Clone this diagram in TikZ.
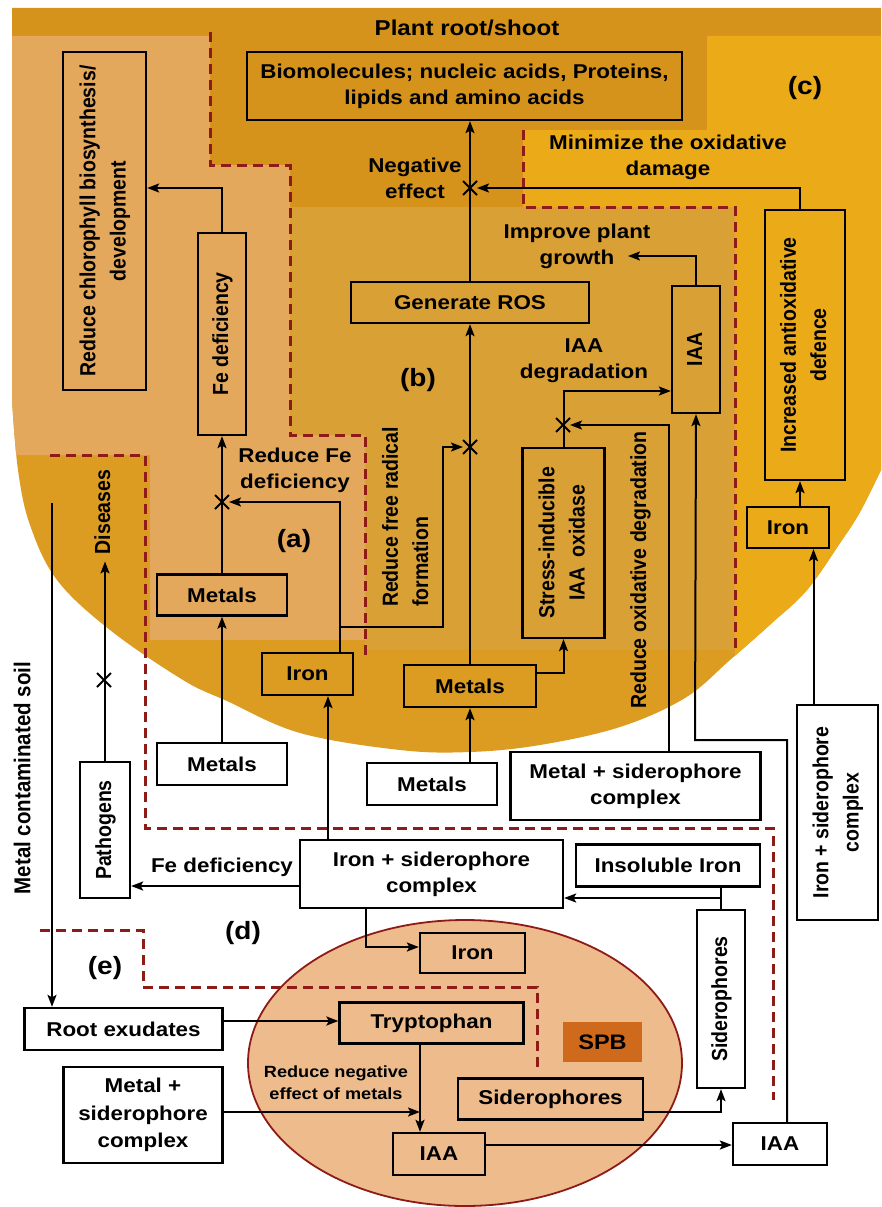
\documentclass[tikz,border=0pt]{standalone}
\usepackage{fontspec}
\setmainfont{Liberation Sans}[FakeStretch=1.12]
\newfontfamily\rotfont{Liberation Sans}
\usepackage{graphicx}
\usetikzlibrary{arrows.meta,shapes.misc}
\definecolor{cbase}{HTML}{DC9B21}
\definecolor{ctop}{HTML}{D5931B}
\definecolor{ca}{HTML}{E4A85D}
\definecolor{cb}{HTML}{D9A035}
\definecolor{cc}{HTML}{EBAA17}
\definecolor{cell}{HTML}{EEBB8D}
\definecolor{cspb}{HTML}{CF6A1C}
\definecolor{cdash}{HTML}{8E1B17}
\newcommand{\vtx}[3]{\rotatebox{90}{\scalebox{1}[1.12]{\rotfont\bfseries\fontsize{#1}{#2}\selectfont\begin{tabular}{@{}c@{}}#3\end{tabular}}}}
\newcommand{\vt}[1]{\vtx{19.5}{27}{#1}}
\newcommand{\vtl}[1]{\rotatebox{90}{\scalebox{1}[1.12]{\rotfont\bfseries\fontsize{19.5}{27}\selectfont\begin{tabular}{@{}l@{}}#1\end{tabular}}}}
\begin{document}
\begin{tikzpicture}[x=1pt,y=-1pt,
  txt/.style={font=\bfseries\fontsize{20}{26}\selectfont, align=center, inner sep=0pt, text=black},
  lbl/.style={font=\bfseries\fontsize{25}{28}\selectfont, inner sep=0pt},
  box/.style={txt, draw=black, line width=2.3pt},
  wbox/.style={box, fill=white},
  ln/.style={line width=2pt},
  arr/.style={line width=2pt, -{Stealth[length=12pt,width=9pt,inset=2.5pt]}},
  dsh/.style={draw=cdash, line width=3pt, dash pattern=on 10pt off 6pt},
  xm/.style={draw, cross out, line width=2pt, minimum size=12pt, inner sep=0pt}]
\useasboundingbox (0,0) rectangle (881,1207);
\fill[white] (0,0) rectangle (881,1207);
% plant region
\fill[cbase] (12,8) -- (881,8) -- (881,470) -- plot[smooth,tension=0.6] coordinates {(881,470) (860,512) (840,543) (807,590) (773,622) (730,660) (685,698) (620,727) (540,745) (470,752) (400,750) (300,733) (227,701) (183,680) (110,630) (57,580) (30,525) (18,470) (12,400)} -- cycle;
\begin{scope}
\clip (12,8) -- (881,8) -- (881,470) -- plot[smooth,tension=0.6] coordinates {(881,470) (860,512) (840,543) (807,590) (773,622) (730,660) (685,698) (620,727) (540,745) (470,752) (400,750) (300,733) (227,701) (183,680) (110,630) (57,580) (30,525) (18,470) (12,400)} -- cycle;
\fill[ctop] (12,8) rectangle (881,36);
\fill[ctop] (210,36) -- (707,36) -- (707,130) -- (523,130) -- (523,207) -- (290,207) -- (290,165) -- (210,165) -- cycle;
\fill[ca] (12,36) -- (210,36) -- (210,165) -- (290,165) -- (290,435) -- (365,435) -- (365,640) -- (150,640) -- (150,455) -- (12,455) -- cycle;
\fill[cb] (290,207) -- (735,207) -- (735,650) -- (365,650) -- (365,435) -- (290,435) -- cycle;
\fill[cc] (523,130) -- (707,130) -- (707,36) -- (881,36) -- (881,900) -- (735,900) -- (735,207) -- (523,207) -- cycle;
\end{scope}
% bacterium
\draw[draw=cdash, line width=1.8pt, fill=cell] (465,1063) ellipse [x radius=217, y radius=143];
\node[txt, fill=cspb, minimum width=79pt, minimum height=40pt, font=\bfseries\fontsize{21}{24}\selectfont] (spb) at (602.5,1042) {SPB};
% dashed borders
\draw[dsh] (210,32) -- (210,165) -- (290,165) -- (290,435) -- (365,435) -- (365,657);
\draw[dsh] (523,130) -- (523,207) -- (735,207) -- (735,650);
\draw[dsh] (50,455) -- (145,455) -- (145,828) -- (773,828) -- (773,1100);
\draw[dsh] (40,930) -- (143,930) -- (143,987) -- (537,987) -- (537,1067);
% boxes
\node[box, minimum width=435pt, minimum height=68pt] (bio) at (464.5,86) {Biomolecules; nucleic acids, Proteins,\\lipids and amino acids};
\node[box, minimum width=83pt, minimum height=338pt] (chl) at (104.5,221) {\vt{Reduce chlorophyll biosynthesis/\\development}};
\node[box, minimum width=48pt, minimum height=202pt] (fe) at (222,334) {\vt{Fe deficiency}};
\node[box, minimum width=130pt, minimum height=41pt] (metA) at (222,595) {Metals};
\node[box, minimum width=91pt, minimum height=42pt] (ironA) at (307.5,674) {Iron};
\node[box, minimum width=238pt, minimum height=41pt] (ros) at (470,302.5) {Generate ROS};
\node[box, minimum width=132pt, minimum height=42pt] (metB) at (470,686) {Metals};
\node[box, minimum width=82pt, minimum height=190pt] (stress) at (563.5,543) {\vt{Stress-inducible\\IAA\enspace oxidase}};
\node[box, minimum width=48pt, minimum height=127pt] (iaaB) at (696,349.5) {\vt{IAA}};
\node[box, minimum width=80pt, minimum height=270pt] (incr) at (805,345) {\vt{Increased antioxidative\\defence}};
\node[box, minimum width=82pt, minimum height=41pt] (ironC) at (788,527.5) {Iron};
\node[wbox, minimum width=81pt, minimum height=215pt] (iscR) at (837.5,812.5) {\vt{Iron + siderophore\\complex}};
\node[wbox, minimum width=130pt, minimum height=42pt] (metW1) at (222,764) {Metals};
\node[wbox, minimum width=130pt, minimum height=42pt] (metW2) at (432,784) {Metals};
\node[wbox, minimum width=250pt, minimum height=68pt] (mscM) at (635.5,786) {Metal + siderophore\\complex};
\node[wbox, minimum width=50pt, minimum height=136pt] (path) at (105,830) {\vt{Pathogens}};
\node[wbox, minimum width=263pt, minimum height=68pt] (iscM) at (431.5,874) {Iron + siderophore\\complex};
\node[wbox, minimum width=184pt, minimum height=42pt] (insol) at (668,865.5) {Insoluble Iron};
\node[wbox, minimum width=48pt, minimum height=178pt] (sidV) at (721,999) {\vt{Siderophores}};
\node[box, minimum width=105pt, minimum height=40pt] (ironE) at (472.5,953) {Iron};
\node[wbox, minimum width=198pt, minimum height=42pt] (root) at (123.5,1029) {Root exudates};
\node[box, minimum width=184pt, minimum height=41pt] (tryp) at (431.5,1023) {Tryptophan};
\node[wbox, minimum width=159pt, minimum height=96pt, font=\bfseries\fontsize{20}{27.5}\selectfont] (mscL) at (143,1115) {Metal +\\siderophore\\complex};
\node[box, minimum width=92pt, minimum height=42pt] (iaaE) at (439,1154) {IAA};
\node[box, minimum width=185pt, minimum height=41pt] (sidE) at (550.5,1099) {Siderophores};
\node[wbox, minimum width=94pt, minimum height=42pt] (iaaW) at (780,1144) {IAA};
% labels
\node[txt, font=\bfseries\fontsize{21.5}{25}\selectfont] (title) at (467,28) {Plant root/shoot};
\node[lbl] (la) at (294,541) {(a)};
\node[lbl] (lb) at (418,380) {(b)};
\node[lbl] (lc) at (805,88) {(c)};
\node[lbl] (ld) at (243,933) {(d)};
\node[lbl] (le) at (105,968) {(e)};
\node[txt] (neg) at (415,178) {Negative\\effect};
\node[txt] (mini) at (668,157) {Minimize the oxidative\\damage};
\node[txt] (impr) at (577,246) {Improve plant\\growth};
\node[txt] (iaadeg) at (584,361) {IAA\\degradation};
\node[txt] (rfe) at (295,470) {Reduce Fe\\deficiency};
\node[txt] (rfree) at (407,517) {\vtl{Reduce free radical\\formation}};
\node[txt] (rox) at (640,570) {\vt{Reduce oxidative degradation}};
\node[txt] (fedef) at (222,867) {Fe deficiency};
\node[txt, font=\bfseries\fontsize{16.2}{22}\selectfont] (rneg) at (336,1083) {Reduce negative\\effect of metals};
\node[txt, inner sep=7pt] (dis) at (104,512) {\vt{Diseases}};
\node[txt] (soil) at (25,778) {\vtx{20.5}{24}{Metal contaminated soil}};
% cross marks
\node[xm] (x1) at (222,502) {};
\node[xm] (x2) at (470,447) {};
\node[xm] (x3) at (470,188) {};
\node[xm] (x4) at (563,425) {};
\node[xm] (x5) at (104,680) {};
% coordinates
\coordinate (soilTop) at (52,503);
\coordinate (j1) at (443,627);
\coordinate (k1) at (695,740);
\coordinate (j3) at (721,898);
\coordinate (impTip) at (628,256);
\coordinate (tl) at ([xshift=-11.5pt]tryp.south);
% connectors
\draw[arr] (fe.north) |- ([yshift=33pt]chl.east);
\draw[arr] (metA.north) -- (fe.south);
\draw[arr] ([xshift=32.5pt]ironA.north) |- (x1.east);
\draw[arr] ([xshift=32.5pt]ironA.north |- j1) -- (j1) |- (x2.west);
\draw[arr] (metB.north) -- (ros.south);
\draw[arr] (ros.north) -- (ros.north |- bio.south);
\draw[arr] ([xshift=-5pt]incr.north) |- (x3.east);
\draw[arr] (iaaB.north) |- (impTip);
\draw[arr] (stress.north) |- ([yshift=-41.5pt]iaaB.west);
\draw[arr] ([xshift=33.5pt]mscM.north) |- (x4.east);
\draw[arr] ([yshift=13pt]metB.east) -| (stress.south);
\draw[arr] (metW1.north) -- (metA.south);
\draw[arr] (metB.south |- metW2.north) -- (metB.south);
\draw[arr] ([xshift=7pt]iaaW.north) |- (k1) -- (iaaB.south);
\draw[arr] ([xshift=-5pt]incr.south |- ironC.north) -- ([xshift=-5pt]incr.south);
\draw[arr] ([xshift=25.5pt]ironC.south |- iscR.north) -- ([xshift=25.5pt]ironC.south);
\draw[arr] (path.north) -- (path.north |- dis.south);
\draw[arr] ([xshift=-103.5pt]iscM.north) -- ([xshift=-103.5pt]iscM.north |- ironA.south);
\draw[arr] ([yshift=-12pt]iscM.west) -- ([yshift=-12pt]iscM.west -| path.east);
\draw[arr] ([xshift=-65.5pt]iscM.south) |- ([yshift=6pt]ironE.west);
\draw[ln] (insol.south -| sidV.north) -- (sidV.north);
\draw[arr] (j3) -- (j3 -| iscM.east);
\draw[arr] (soilTop) -- (soilTop |- root.north);
\draw[arr] ([yshift=8pt]root.east) -- ([yshift=8pt]root.east -| tryp.west);
\draw[arr] ([yshift=3pt]mscL.east) -- ([yshift=3pt]mscL.east -| tl);
\draw[arr] (tl) -- (tl |- iaaE.north);
\draw[arr] ([yshift=9pt]iaaE.east) -- ([yshift=9pt]iaaE.east -| iaaW.west);
\draw[arr] ([yshift=-13pt]sidE.east) -| (sidV.south);
\end{tikzpicture}
\end{document}
